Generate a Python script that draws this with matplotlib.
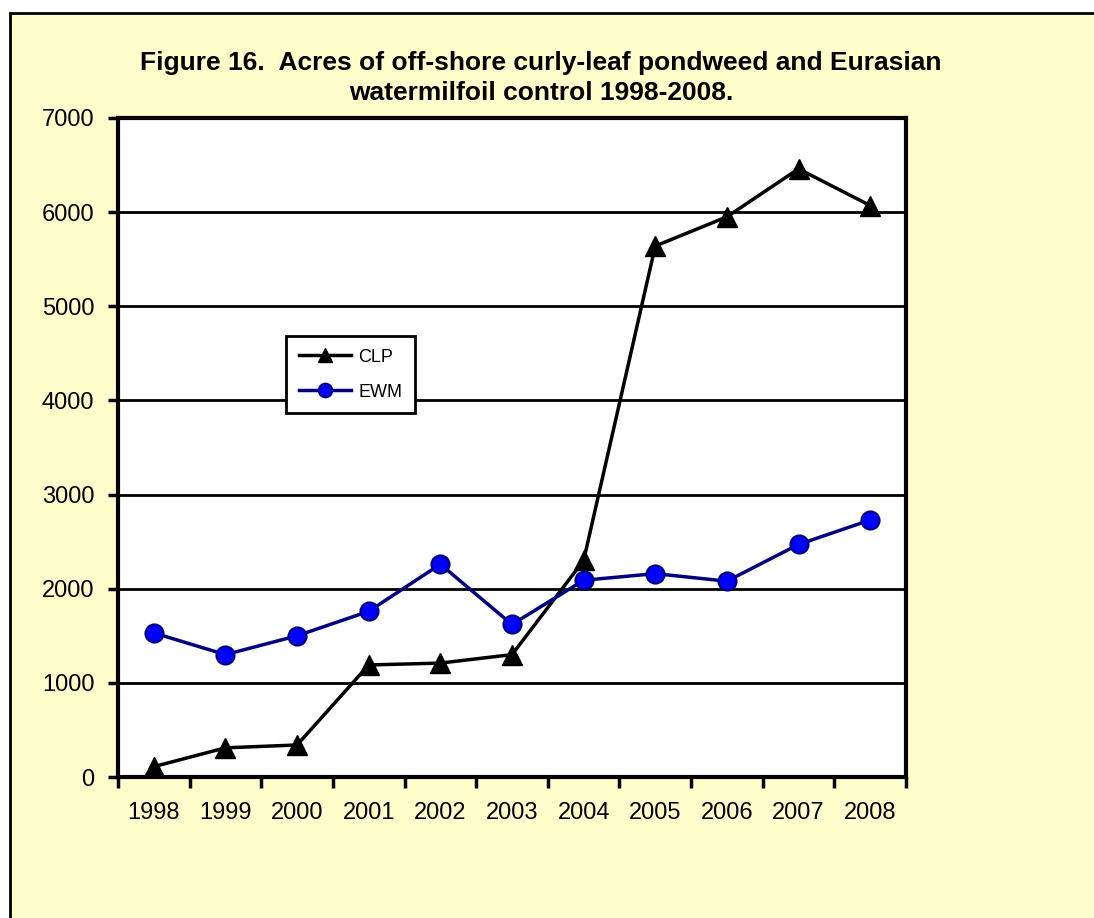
import matplotlib.pyplot as plt
from matplotlib.patches import Rectangle

plt.rcParams['font.family'] = ['Liberation Sans', 'DejaVu Sans']

years = ['1998', '1999', '2000', '2001', '2002', '2003', '2004', '2005', '2006', '2007', '2008']
clp = [110, 310, 340, 1190, 1210, 1300, 2300, 5640, 5950, 6460, 6070]
ewm = [1530, 1300, 1500, 1760, 2260, 1620, 2090, 2160, 2080, 2470, 2730]
y_ticks = [0, 1000, 2000, 3000, 4000, 5000, 6000, 7000]

W, H = 1094, 918
fig = plt.figure(figsize=(W / 100, H / 100), dpi=100)
fig.patch.set_facecolor('white')

# yellow chart area with black border (right and bottom edges run off the image)
fig.patches.append(Rectangle((10 / W, -0.05), 1.1, (H - 13) / H + 0.05,
                             transform=fig.transFigure, facecolor='#FFFFCC',
                             edgecolor='black', linewidth=2, zorder=-10))

ax = fig.add_axes([118 / W, (H - 777) / H, (906 - 118) / W, (777 - 118) / H])
ax.set_zorder(1)
ax.set_facecolor('white')

x = list(range(len(years)))
ax.plot(x, clp, color='black', linewidth=2.5, marker='^', markersize=14,
        markerfacecolor='black', markeredgecolor='black', label='CLP', zorder=3)
ax.plot(x, ewm, color='#000080', linewidth=2.5, marker='o', markersize=13,
        markerfacecolor='#0000FF', markeredgecolor='#000080', markeredgewidth=1.5,
        label='EWM', zorder=3)

ax.set_xlim(-0.5, len(years) - 0.5)
ax.set_ylim(0, 7000)
ax.set_yticks(y_ticks)
for v in y_ticks[1:-1]:
    ax.axhline(v, color='black', linewidth=2, zorder=1)

# ticks between categories, labels centred
ax.set_xticks([i - 0.5 for i in range(len(years) + 1)])
ax.set_xticklabels([])
ax.set_xticks(x, minor=True)
ax.set_xticklabels(years, minor=True)
ax.tick_params(axis='x', which='major', direction='out', length=8, width=2.5)
ax.tick_params(axis='x', which='minor', length=0, pad=18, labelsize=17)
ax.tick_params(axis='y', direction='out', length=7, width=2.5, pad=10, labelsize=17)

for s in ax.spines.values():
    s.set_linewidth(3)
    s.set_color('black')

fig.text(541 / W, 1 - 70 / H, 'Figure 16.  Acres of off-shore curly-leaf pondweed and Eurasian',
         ha='center', va='baseline', fontsize=19, fontweight='bold')
fig.text(541 / W, 1 - 100 / H, 'watermilfoil control 1998-2008.',
         ha='center', va='baseline', fontsize=19, fontweight='bold')

leg = ax.legend(loc='upper left', bbox_to_anchor=(286 / W, 1 - 336 / H),
                bbox_transform=fig.transFigure, fontsize=13, frameon=True,
                fancybox=False, framealpha=1, edgecolor='black',
                handlelength=2.9, labelspacing=1.0, borderpad=0.7,
                handletextpad=0.4, borderaxespad=0, markerscale=0.75)
leg.get_frame().set_linewidth(2)
leg.set_zorder(5)

fig.savefig('out.png', dpi=100, facecolor=fig.get_facecolor())
